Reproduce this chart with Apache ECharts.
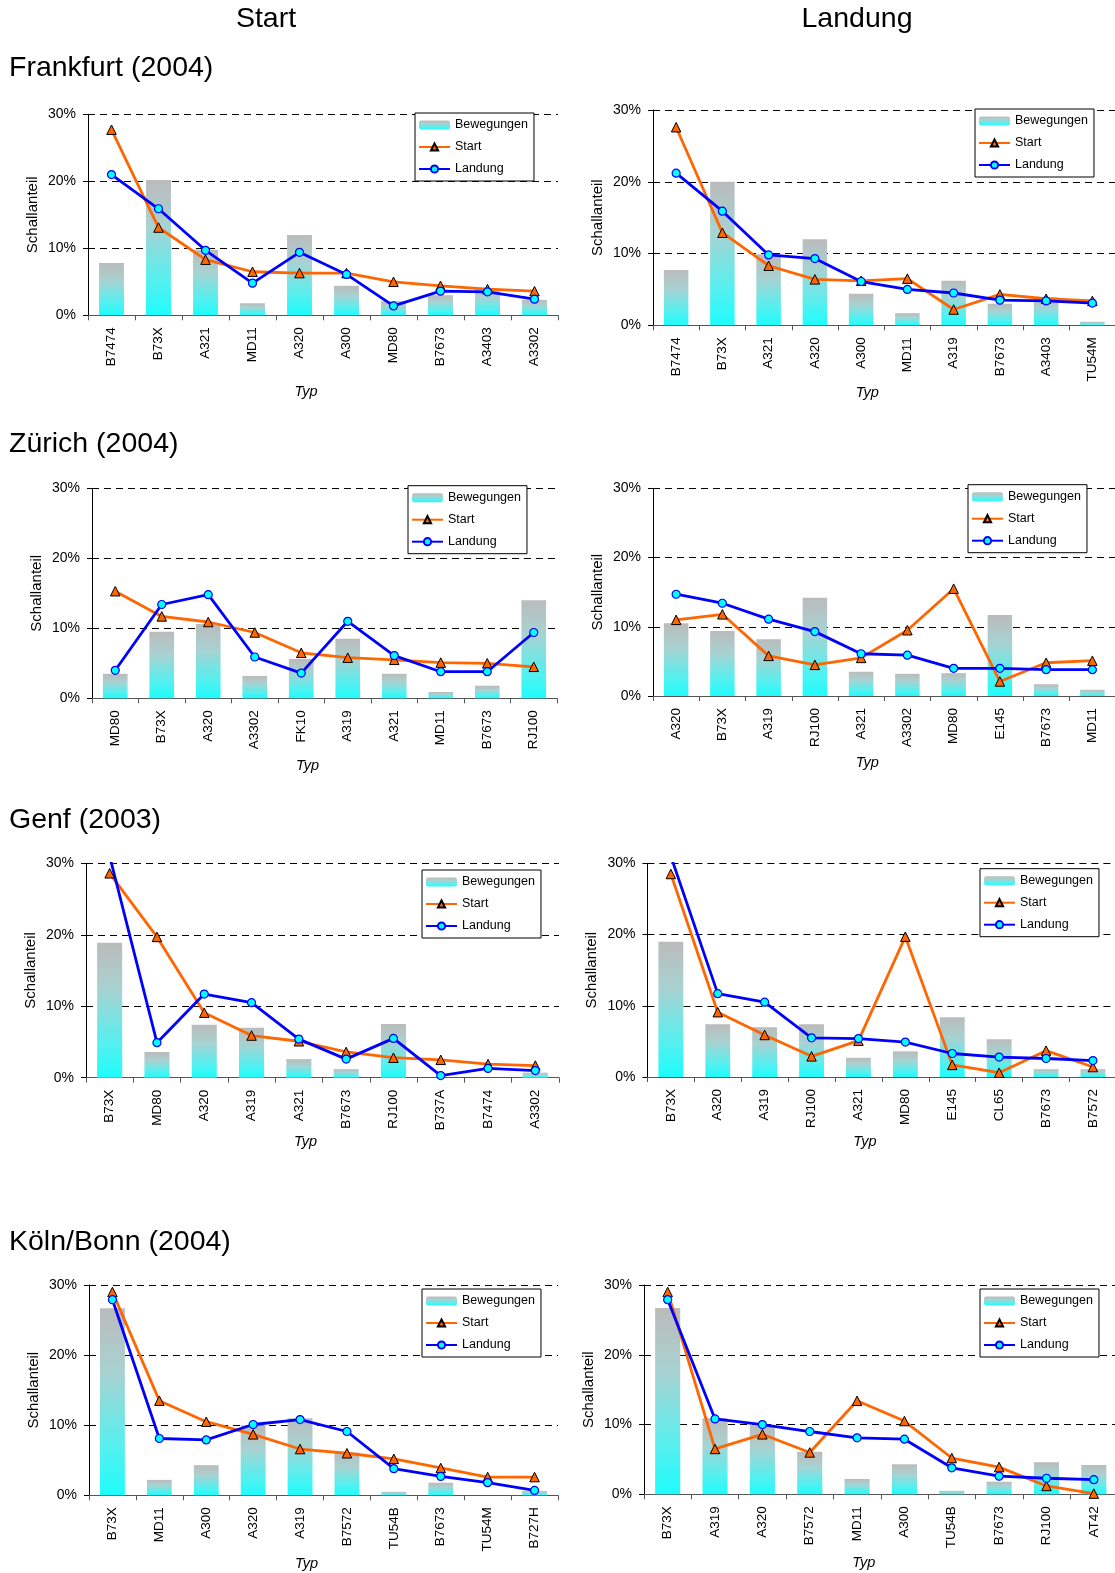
<!DOCTYPE html>
<html><head><meta charset="utf-8">
<script src="https://cdn.jsdelivr.net/npm/echarts@6/dist/echarts.min.js"></script>
<style>html,body{margin:0;padding:0;background:#fff}#c{width:1115px;height:1573px}</style>
</head><body><div id="c"></div>
<script>
// ---------- DATA ----------
const seriesNames = ['Bewegungen', 'Start', 'Landung'];
const columnHeaders = ['Start', 'Landung'];
const rowTitles = ['Frankfurt (2004)', 'Zürich (2004)', 'Genf (2003)', 'Köln/Bonn (2004)'];
const xAxisTitle = 'Typ';
const yAxisTitle = 'Schallanteil';
const yTicks = [0, 10, 20, 30];

// Frankfurt – Start
const fraStartCats  = ['B7474','B73X','A321','MD11','A320','A300','MD80','B7673','A3403','A3302'];
const fraStartBew   = [7.8, 20.2, 9.8, 1.8, 12.0, 4.4, 2.1, 3.0, 4.0, 2.3];
const fraStartStart = [27.7, 13.1, 8.3, 6.5, 6.3, 6.3, 5.0, 4.4, 3.9, 3.6];
const fraStartLand  = [21.0, 15.9, 9.7, 4.8, 9.4, 6.1, 1.4, 3.6, 3.5, 2.4];
// Frankfurt – Landung
const fraLandCats  = ['B7474','B73X','A321','A320','A300','MD11','A319','B7673','A3403','TU54M'];
const fraLandBew   = [7.7, 20.0, 9.9, 12.0, 4.4, 1.7, 6.2, 3.0, 3.9, 0.5];
const fraLandStart = [27.6, 12.9, 8.3, 6.4, 6.2, 6.5, 2.2, 4.3, 3.7, 3.4];
const fraLandLand  = [21.2, 15.9, 9.8, 9.3, 6.1, 5.0, 4.5, 3.5, 3.4, 3.1];
// Zürich – Start
const zrhStartCats  = ['MD80','B73X','A320','A3302','FK10','A319','A321','MD11','B7673','RJ100'];
const zrhStartBew   = [3.5, 9.5, 10.6, 3.2, 5.6, 8.5, 3.5, 0.9, 1.8, 14.0];
const zrhStartStart = [15.3, 11.7, 10.9, 9.4, 6.5, 5.8, 5.5, 5.1, 5.0, 4.5];
const zrhStartLand  = [4.0, 13.4, 14.8, 5.9, 3.6, 11.0, 6.1, 3.8, 3.8, 9.4];
// Zürich – Landung
const zrhLandCats  = ['A320','B73X','A319','RJ100','A321','A3302','MD80','E145','B7673','MD11'];
const zrhLandBew   = [10.5, 9.4, 8.2, 14.2, 3.5, 3.2, 3.3, 11.7, 1.7, 0.9];
const zrhLandStart = [11.0, 11.8, 5.8, 4.5, 5.5, 9.5, 15.5, 2.1, 4.8, 5.1];
const zrhLandLand  = [14.7, 13.4, 11.1, 9.3, 6.1, 5.9, 4.0, 4.0, 3.8, 3.8];
// Genf – Start
const gvaStartCats  = ['B73X','MD80','A320','A319','A321','B7673','RJ100','B737A','B7474','A3302'];
const gvaStartBew   = [18.9, 3.6, 7.4, 7.0, 2.6, 1.2, 7.5, 0, 0, 0.7];
const gvaStartStart = [28.6, 19.7, 9.1, 5.9, 5.1, 3.6, 2.8, 2.5, 1.9, 1.7];
const gvaStartLand  = [31.0, 4.9, 11.7, 10.5, 5.4, 2.6, 5.5, 0.3, 1.3, 1.0];
// Genf – Landung
const gvaLandCats  = ['B73X','A320','A319','RJ100','A321','MD80','E145','CL65','B7673','B7572'];
const gvaLandBew   = [19.0, 7.4, 7.0, 7.4, 2.7, 3.6, 8.4, 5.3, 1.1, 1.1];
const gvaLandStart = [28.5, 9.1, 5.9, 2.9, 5.1, 19.7, 1.7, 0.6, 3.7, 1.4];
const gvaLandLand  = [31.0, 11.7, 10.5, 5.5, 5.4, 4.9, 3.3, 2.8, 2.6, 2.3];
// Köln/Bonn – Start
const cgnStartCats  = ['B73X','MD11','A300','A320','A319','B7572','TU54B','B7673','TU54M','B727H'];
const cgnStartBew   = [26.7, 2.2, 4.3, 10.0, 11.0, 6.1, 0.5, 1.8, 0, 0.6];
const cgnStartStart = [29.0, 13.5, 10.5, 8.7, 6.6, 6.0, 5.2, 3.9, 2.6, 2.6];
const cgnStartLand  = [27.9, 8.1, 7.9, 10.1, 10.8, 9.1, 3.8, 2.7, 1.8, 0.7];
// Köln/Bonn – Landung
const cgnLandCats  = ['B73X','A319','A320','B7572','MD11','A300','TU54B','B7673','RJ100','AT42'];
const cgnLandBew   = [26.7, 10.9, 9.9, 6.1, 2.2, 4.3, 0.5, 1.8, 4.6, 4.2];
const cgnLandStart = [29.0, 6.5, 8.6, 6.0, 13.4, 10.5, 5.2, 3.9, 1.2, 0.1];
const cgnLandLand  = [27.9, 10.8, 10.0, 9.0, 8.1, 7.9, 3.8, 2.6, 2.3, 2.1];

// ---------- LAYOUT ----------
const panels = [
  [fraStartCats, fraStartBew, fraStartStart, fraStartLand],
  [fraLandCats, fraLandBew, fraLandStart, fraLandLand],
  [zrhStartCats, zrhStartBew, zrhStartStart, zrhStartLand],
  [zrhLandCats, zrhLandBew, zrhLandStart, zrhLandLand],
  [gvaStartCats, gvaStartBew, gvaStartStart, gvaStartLand],
  [gvaLandCats, gvaLandBew, gvaLandStart, gvaLandLand],
  [cgnStartCats, cgnStartBew, cgnStartStart, cgnStartLand],
  [cgnLandCats, cgnLandBew, cgnLandStart, cgnLandLand]
];
const layouts = [
  {left: 88,  top: 114.3,  width: 470,   height: 201,   lx: 415, ly: 113,   gap: 69},
  {left: 653, top: 110,    width: 462.5, height: 215.3, lx: 975, ly: 109,   gap: 60},
  {left: 92,  top: 488.3,  width: 465,   height: 210,   lx: 408, ly: 485.7, gap: 60},
  {left: 653, top: 488.3,  width: 462.5, height: 207.7, lx: 968, ly: 484.7, gap: 59},
  {left: 86,  top: 863.3,  width: 473,   height: 214.4, lx: 422, ly: 870,   gap: 57},
  {left: 647.4, top: 863.3, width: 469,  height: 213.7, lx: 980, ly: 868.7, gap: 57},
  {left: 89,  top: 1285,   width: 469,   height: 210.3, lx: 422, ly: 1289,  gap: 61},
  {left: 644, top: 1285,   width: 473.5, height: 209.3, lx: 980, ly: 1289,  gap: 61}
];
const FONT = '"Liberation Sans", Arial, Helvetica, sans-serif';

const barGradient = {
  type: 'linear', x: 0, y: 0, x2: 0, y2: 1,
  colorStops: [
    {offset: 0, color: '#bbbbbb'},
    {offset: 0.35, color: '#a8d2d2'},
    {offset: 0.75, color: '#55f0f0'},
    {offset: 1, color: '#1efcfc'}
  ]
};

const grid = [], xAxis = [], yAxis = [], series = [], legend = [];
panels.forEach((p, i) => {
  const l = layouts[i];
  grid.push({left: l.left, top: l.top, width: l.width, height: l.height, containLabel: false, outerBoundsMode: 'none'});
  xAxis.push({
    type: 'category', gridIndex: i, data: p[0], boundaryGap: true,
    axisLine: {show: true, lineStyle: {color: '#555', width: 1}},
    axisTick: {show: true, length: 5, alignWithLabel: false, lineStyle: {color: '#555'}},
    axisLabel: {rotate: 90, interval: 0, margin: 12, fontSize: 13.5, color: '#000', fontFamily: FONT, hideOverlap: false},
    splitLine: {show: false},
    name: xAxisTitle, nameLocation: 'middle', nameGap: l.gap,
    nameTextStyle: {fontStyle: 'italic', fontSize: 14.5, color: '#000', fontFamily: FONT, padding: [0, 34, 0, 0]}
  });
  yAxis.push({
    type: 'value', gridIndex: i, min: yTicks[0], max: yTicks[yTicks.length - 1], interval: yTicks[1] - yTicks[0],
    axisLine: {show: true, lineStyle: {color: '#000', width: 1}},
    axisTick: {show: true, length: 5, inside: false, lineStyle: {color: '#000'}},
    axisLabel: {formatter: '{value}%', margin: 12, fontSize: 14, color: '#000', fontFamily: FONT},
    splitLine: {show: true, lineStyle: {color: '#000', type: [7, 5], width: 1}},
    name: yAxisTitle, nameLocation: 'middle', nameGap: 48,
    nameTextStyle: {fontSize: 15, color: '#000', fontFamily: FONT}
  });
  series.push({
    name: seriesNames[0], type: 'bar', xAxisIndex: i, yAxisIndex: i, data: p[1],
    barWidth: '53%', itemStyle: {color: barGradient}
  });
  series.push({
    name: seriesNames[1], type: 'line', xAxisIndex: i, yAxisIndex: i, data: p[2],
    symbol: 'triangle', symbolSize: 9.5, clip: true,
    lineStyle: {color: '#ff6600', width: 2.8},
    itemStyle: {color: '#ff6600', borderColor: '#000', borderWidth: 1}
  });
  series.push({
    name: seriesNames[2], type: 'line', xAxisIndex: i, yAxisIndex: i, data: p[3],
    symbol: 'circle', symbolSize: 8, clip: true,
    lineStyle: {color: '#0000ff', width: 2.8},
    itemStyle: {color: '#00ffff', borderColor: '#0000ff', borderWidth: 1.2}
  });
  legend.push({
    orient: 'vertical', left: l.lx, top: l.ly, padding: [5, 6, 5, 3], itemGap: 8,
    itemWidth: 31, itemHeight: 9, backgroundColor: '#fff', borderColor: '#000', borderWidth: 1, borderRadius: 0,
    textStyle: {fontSize: 12.5, color: '#000', fontFamily: FONT, lineHeight: 14}, data: seriesNames.slice(), selectedMode: false
  });
});

const titleFont = 28.5;
const graphic = [
  {type: 'text', x: 266, y: 19, style: {text: columnHeaders[0], fontSize: titleFont, fontFamily: FONT, fill: '#000', align: 'center', verticalAlign: 'middle'}},
  {type: 'text', x: 857, y: 19, style: {text: columnHeaders[1], fontSize: titleFont, fontFamily: FONT, fill: '#000', align: 'center', verticalAlign: 'middle'}},
  {type: 'text', x: 9, y: 68,   style: {text: rowTitles[0], fontSize: titleFont, fontFamily: FONT, fill: '#000', align: 'left', verticalAlign: 'middle'}},
  {type: 'text', x: 9, y: 444.5, style: {text: rowTitles[1], fontSize: titleFont, fontFamily: FONT, fill: '#000', align: 'left', verticalAlign: 'middle'}},
  {type: 'text', x: 9, y: 820,  style: {text: rowTitles[2], fontSize: titleFont, fontFamily: FONT, fill: '#000', align: 'left', verticalAlign: 'middle'}},
  {type: 'text', x: 9, y: 1242, style: {text: rowTitles[3], fontSize: titleFont, fontFamily: FONT, fill: '#000', align: 'left', verticalAlign: 'middle'}}
];

const chart = echarts.init(document.getElementById('c'), null, {renderer: 'canvas'});
chart.setOption({
  animation: false,
  backgroundColor: '#fff',
  textStyle: {fontFamily: FONT},
  grid, xAxis, yAxis, series, legend, graphic
});
</script></body></html>
